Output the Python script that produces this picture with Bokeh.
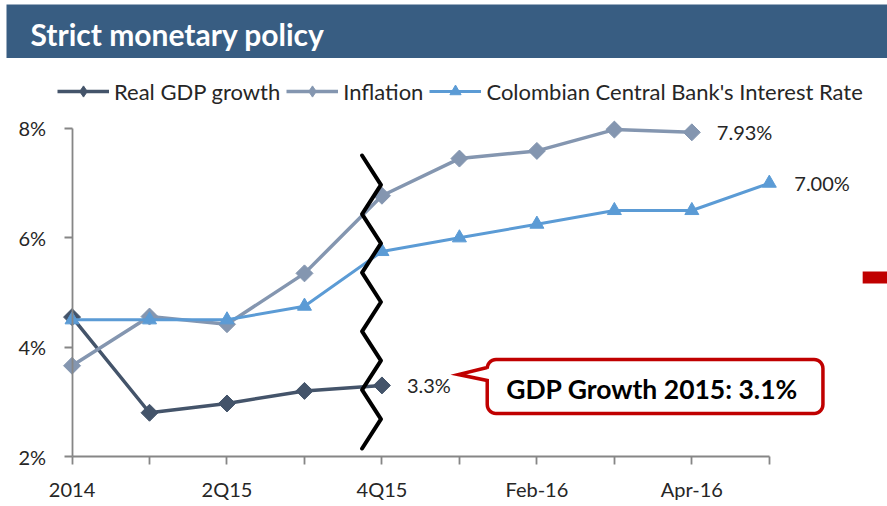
import numpy as np
from bokeh.plotting import figure
from bokeh.layouts import column
from bokeh.models import (Range1d, FixedTicker, PrintfTickFormatter, Legend, LegendItem,
                          Label, BoxAnnotation)
from bokeh.core.properties import value
from bokeh.embed import file_html
from bokeh.resources import INLINE

# ---------------- data ----------------
categories = ["2014", "1Q15", "2Q15", "3Q15", "4Q15", "Jan-16", "Feb-16", "Mar-16", "Apr-16", "May-16"]
tick_labels = ["2014", "", "2Q15", "", "4Q15", "", "Feb-16", "", "Apr-16", ""]
gdp_growth = [4.55, 2.80, 2.97, 3.20, 3.30]
inflation = [3.66, 4.56, 4.42, 5.35, 6.77, 7.45, 7.59, 7.98, 7.93]
interest_rate = [4.50, 4.50, 4.50, 4.75, 5.75, 6.00, 6.25, 6.50, 6.50, 7.00]
end_labels = ["3.3%", "7.93%", "7.00%"]
y_ticks = [2, 4, 6, 8]
title_text = "Strict monetary policy"
callout_text = "GDP Growth 2015: 3.1%"
series_names = ["Real GDP growth", "Inflation", "Colombian Central Bank's Interest Rate"]

# ---------------- styling ----------------
C_GDP = "#44546a"
C_INF = "#8496b0"
C_INT = "#5b9bd5"
C_BAR = "#385d82"
C_AXIS = "#868686"
C_TXT = "#262626"
C_RED = "#c00000"
FONT = "Lato"

FIG_W = 887
TITLE_H = 58
CH_H = 448
X0_PX = 66.0      # px of first category
DX = 78.0         # px per category
Y2_PX = 456.0     # page px (from top) of 2%
DY = 54.667       # px per percentage point

x_start = -X0_PX / DX
x_end = (FIG_W - X0_PX) / DX
y_top = 2 + (Y2_PX - TITLE_H) / DY
y_bottom = 2 - (TITLE_H + CH_H - Y2_PX) / DY


def px2x(px):
    return (px - X0_PX) / DX


def py2y(py):
    return 2 + (Y2_PX - py) / DY


# ---------------- title bar ----------------
t = figure(width=FIG_W, height=TITLE_H, output_backend="svg", toolbar_location=None,
           x_axis_type=None, y_axis_type=None, min_border=0,
           min_border_left=6, min_border_top=4,
           background_fill_color=C_BAR, border_fill_color="white", outline_line_color=None,
           x_range=Range1d(0, 1), y_range=Range1d(0, 1))
t.add_layout(Label(x=24, y=25, x_units="screen", y_units="screen", text=title_text,
                   text_color="white", text_font=FONT, text_font_style="bold",
                   text_font_size="30px", text_baseline="middle"))

# ---------------- chart ----------------
p = figure(width=FIG_W, height=CH_H, output_backend="svg", toolbar_location=None,
           x_range=Range1d(x_start, x_end), y_range=Range1d(y_bottom, y_top),
           min_border=0, outline_line_color=None)
p.grid.visible = False

xa = p.xaxis[0]
xa.fixed_location = 2
xa.bounds = (0, len(categories) - 1)
xa.ticker = FixedTicker(ticks=list(range(len(categories))))
xa.major_label_overrides = {i: lab for i, lab in enumerate(tick_labels)}
ya = p.yaxis[0]
ya.fixed_location = 0
ya.bounds = (y_ticks[0], y_ticks[-1])
ya.ticker = FixedTicker(ticks=y_ticks)
ya.formatter = PrintfTickFormatter(format="%d%%")
for ax in (xa, ya):
    ax.minor_tick_line_color = None
    ax.major_tick_in = 0
    ax.major_tick_out = 8
    ax.axis_line_color = C_AXIS
    ax.axis_line_width = 1.8
    ax.major_tick_line_color = C_AXIS
    ax.major_tick_line_width = 1.8
    ax.major_label_text_font = FONT
    ax.major_label_text_font_size = "20px"
    ax.major_label_text_color = C_TXT
xa.major_label_standoff = 12
ya.major_label_standoff = 18

x_gdp = list(range(len(gdp_growth)))
x_inf = list(range(len(inflation)))
x_int = list(range(len(interest_rate)))

l1 = p.line(x_gdp, gdp_growth, line_color=C_GDP, line_width=3.5)
k1 = p.scatter(x_gdp, gdp_growth, marker="diamond", size=10, color=C_GDP)
s1 = p.scatter(x_gdp, gdp_growth, marker="square", angle=np.pi / 4, size=12,
               fill_color=C_GDP, line_color=C_GDP)
l2 = p.line(x_inf, inflation, line_color=C_INF, line_width=3.5)
k2 = p.scatter(x_inf, inflation, marker="diamond", size=10, color=C_INF)
s2 = p.scatter(x_inf, inflation, marker="square", angle=np.pi / 4, size=12,
               fill_color=C_INF, line_color=C_INF)
l3 = p.line(x_int, interest_rate, line_color=C_INT, line_width=3)
s3 = p.scatter(x_int, interest_rate, marker="triangle", size=14,
               fill_color=C_INT, line_color=C_INT)

# end-of-series labels
p.text(x=[x_gdp[-1], x_inf[-1], x_int[-1]],
       y=[gdp_growth[-1], inflation[-1], interest_rate[-1]],
       text=end_labels, x_offset=25, text_baseline="middle",
       text_font=value(FONT), text_font_size="20px", text_color=C_TXT)

# break marker (zigzag)
n_zz = 11
zz_y = np.linspace(py2y(155), py2y(448), n_zz)
zz_x = [px2x(358) if i % 2 == 0 else px2x(377) for i in range(n_zz)]
p.line(zz_x, zz_y, line_color="black", line_width=4, line_join="round", line_cap="round")

# callout
L, R, T, B, r = 484, 822, 359, 413, 9
pts = [(L + r, T), (R - r, T)]
for a in np.linspace(-np.pi / 2, 0, 8):
    pts.append((R - r + r * np.cos(a), T + r + r * np.sin(a)))
for a in np.linspace(0, np.pi / 2, 8):
    pts.append((R - r + r * np.cos(a), B - r + r * np.sin(a)))
for a in np.linspace(np.pi / 2, np.pi, 8):
    pts.append((L + r + r * np.cos(a), B - r + r * np.sin(a)))
pts += [(L, 380), (455, 374), (L, 367)]
for a in np.linspace(np.pi, 1.5 * np.pi, 8):
    pts.append((L + r + r * np.cos(a), T + r + r * np.sin(a)))
p.patch([px2x(a) for a, _ in pts], [py2y(b) for _, b in pts],
        fill_color="white", line_color=C_RED, line_width=3.5, line_join="miter")
p.add_layout(Label(x=px2x(650), y=py2y(388), text=callout_text, text_align="center",
                   text_baseline="middle", text_font=FONT, text_font_style="bold",
                   text_font_size="26.5px", text_color="black"))

# cropped red marker at right edge
p.add_layout(BoxAnnotation(left=px2x(862), right=px2x(892), top=py2y(271), bottom=py2y(283),
                           fill_color=C_RED, fill_alpha=1, line_color=None))

legend = Legend(items=[LegendItem(label=series_names[0], renderers=[l1, k1]),
                       LegendItem(label=series_names[1], renderers=[l2, k2]),
                       LegendItem(label=series_names[2], renderers=[l3, s3])],
                orientation="horizontal", location=(51, 401),
                glyph_width=52, glyph_height=28, label_height=28, label_standoff=5,
                spacing=6, padding=0, margin=0, border_line_color=None,
                background_fill_alpha=0, label_text_font=FONT,
                label_text_font_size="22px", label_text_color=C_TXT)
p.add_layout(legend)

layout = column(t, p, spacing=0)
open("out.html", "w").write(file_html(layout, INLINE))
